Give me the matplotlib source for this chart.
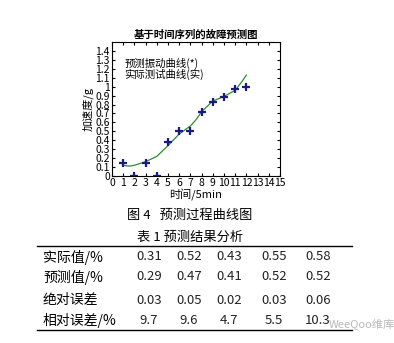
import matplotlib.pyplot as plt

plt.rcParams['font.family'] = ['Noto Sans CJK SC', 'DejaVu Sans']

# measured points (stars) and predicted curve
t_meas = [1, 2, 3, 4, 5, 6, 7, 8, 9, 10, 11, 12]
acc_meas = [0.14, 0.0, 0.15, 0.0, 0.38, 0.50, 0.50, 0.72, 0.83, 0.88, 0.97, 1.00]
t_pred = [1, 1.5, 2, 3, 4, 5, 6, 7, 7.5, 8, 9, 10, 11, 11.5, 12]
acc_pred = [0.12, 0.11, 0.12, 0.16, 0.22, 0.34, 0.47, 0.56, 0.63, 0.72, 0.84, 0.89, 0.96, 1.04, 1.13]

# table
row_labels = ['实际值/%', '预测值/%', '绝对误差', '相对误差/%']
table_values = [
    ['0.31', '0.52', '0.43', '0.55', '0.58'],
    ['0.29', '0.47', '0.41', '0.52', '0.52'],
    ['0.03', '0.05', '0.02', '0.03', '0.06'],
    ['9.7', '9.6', '4.7', '5.5', '10.3'],
]

W, H = 394, 343
fig = plt.figure(figsize=(W / 100, H / 100), dpi=100)

ax = fig.add_axes([112 / W, 1 - 176 / H, 168 / W, 134 / H])
ax.plot(t_pred, acc_pred, color='#2e8b2e', lw=0.9)
ax.plot(t_meas, acc_meas, ls='none', marker='+', ms=5.5, mew=1.6, color='#1a1a80')
ax.set_xlim(0, 15)
ax.set_ylim(0, 1.5)
ax.set_xticks(range(16))
ax.set_yticks([i / 10 for i in range(15)])
ax.set_yticklabels(['0'] + ['%g' % (i / 10) for i in range(1, 15)])
ax.tick_params(direction='in', length=2.5, labelsize=7.5, pad=1.5, top=True, right=True)
for s in ax.spines.values():
    s.set_linewidth(0.8)
ax.set_title('基于时间序列的故障预测图', fontsize=7.5, pad=3, fontweight='bold')
ax.set_xlabel('时间/5min', fontsize=8, labelpad=0)
ax.set_ylabel('加速度/g', fontsize=8, labelpad=1)
ax.text(1.1, 1.2, '预测振动曲线(*)\n实际测试曲线(实)', fontsize=7.5, linespacing=0.95, va='center')

# captions
fig.text(190 / W, 1 - 215 / H, '图 4   预测过程曲线图', fontsize=9.5, ha='center', va='center')
fig.text(190 / W, 1 - 237 / H, '表 1 预测结果分析', fontsize=9.5, ha='center', va='center')

# table lines
for yy in (246, 330):
    fig.add_artist(plt.Line2D([37 / W, 352 / W], [1 - yy / H, 1 - yy / H], color='black', lw=1))

row_y = [257, 277, 300, 320]
col_x = [149, 189, 229, 274, 318]
for label, vals, yy in zip(row_labels, table_values, row_y):
    fig.text(43 / W, 1 - yy / H, label, fontsize=10, va='center', ha='left')
    for v, xx in zip(vals, col_x):
        fig.text(xx / W, 1 - yy / H, v, fontsize=9.5, va='center', ha='center', color='#222222')

fig.text(362 / W, 1 - 325 / H, 'WeeQoo维库', fontsize=8, color='#b8b8b8', ha='center', va='center')

fig.savefig('out.png', dpi=100)
